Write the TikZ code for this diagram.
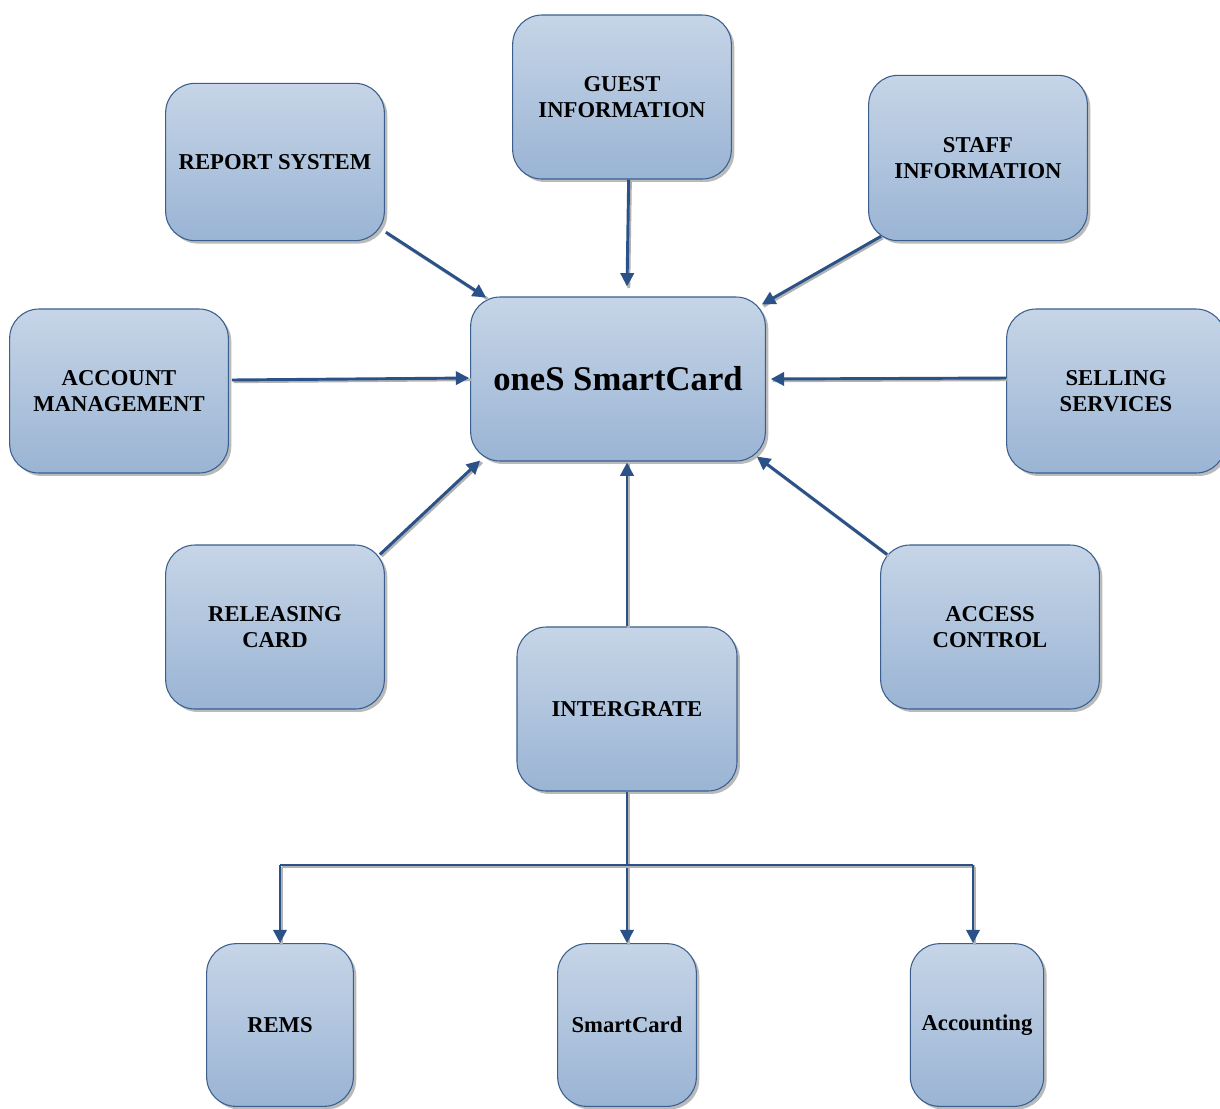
\documentclass[tikz,border=0pt]{standalone}
\usepackage{fontspec}
\setmainfont{Liberation Serif}
\usetikzlibrary{arrows.meta,shadows,calc}
\definecolor{boxtop}{HTML}{C6D5E7}
\definecolor{boxbot}{HTML}{9AB4D4}
\definecolor{boxline}{HTML}{3A5F8F}
\definecolor{arrowc}{HTML}{2B5288}
\begin{document}
\begin{tikzpicture}[x=0.75pt,y=-0.75pt,
  card/.style={rectangle, rounded corners=22pt, draw=boxline, line width=0.8pt,
    top color=boxtop, bottom color=boxbot, inner sep=0pt, align=center,
    font=\fontsize{17}{20}\selectfont\bfseries,
    drop shadow={shadow xshift=2.2pt, shadow yshift=-2.2pt, fill=black!45, opacity=0.6}},
  arr/.style={draw=arrowc, line width=2.2pt, -{Triangle[length=10pt,width=10pt]},
    preaction={draw=black!30, line width=2.2pt, -, transform canvas={shift={(1.3pt,-1.3pt)}}}},
  line/.style={draw=arrowc, line width=2.2pt,
    preaction={draw=black!30, line width=2.2pt, transform canvas={shift={(1.3pt,-1.3pt)}}}}]
\clip (0,0) rectangle (1220,1108);
\fill[white] (0,0) rectangle (1220,1108);

\node[card, minimum width=164pt, minimum height=123pt] (guest) at (622,97) {GUEST\\INFORMATION};
\node[card, minimum width=164pt, minimum height=118pt] (report) at (275,162) {REPORT SYSTEM};
\node[card, minimum width=164pt, minimum height=124pt] (staff) at (978,158) {STAFF\\INFORMATION};
\node[card, minimum width=164pt, minimum height=123pt] (account) at (119,391) {ACCOUNT\\MANAGEMENT};
\node[card, minimum width=221pt, minimum height=123pt, font=\fontsize{26}{30}\selectfont\bfseries] (center) at (618,379) {oneS SmartCard};
\node[card, minimum width=164pt, minimum height=123pt] (selling) at (1116,391) {SELLING\\SERVICES};
\node[card, minimum width=164pt, minimum height=123pt] (releasing) at (275,627) {RELEASING\\CARD};
\node[card, minimum width=164pt, minimum height=123pt] (access) at (990,627) {ACCESS\\CONTROL};
\node[card, minimum width=165pt, minimum height=123pt] (integ) at (627,709) {INTERGRATE};
\node[card, minimum width=110pt, minimum height=122pt] (rems) at (280,1025) {REMS};
\node[card, minimum width=104pt, minimum height=122pt] (smart) at (627,1025) {SmartCard};
\node[card, minimum width=100pt, minimum height=122pt] (acct) at (977,1025) {Accounting};

\coordinate (bus) at (627,865);

\draw[arr] ([shift={(1,-9)}]report.south east) -- ([shift={(16,1)}]center.north west);
\draw[arr] ([xshift=5]guest.south) -- ([shift={(9,-10)}]center.north);
\draw[arr] ([shift={(13,-5)}]staff.south west) -- ([shift={(-4,8)}]center.north east);
\draw[arr] ([shift={(3,-11)}]account.east) -- ([shift={(-1,-1)}]center.west);
\draw[arr] ([shift={(0,-13)}]selling.west) -- ([shift={(5,0)}]center.east);
\draw[arr] ([shift={(-5,10)}]releasing.north east) -- ([shift={(10,-1)}]center.south west);
\draw[arr] (integ.north) -- ([shift={(9,1)}]center.south);
\draw[arr] ([shift={(7,10)}]access.north west) -- ([shift={(-9,-5)}]center.south east);

\draw[arr] (integ.south) -- (smart.north);
\draw[line] (bus -| rems.north) -- ([xshift=-3]bus -| acct.north);
\draw[arr] (bus -| rems.north) -- (rems.north);
\draw[arr] ([xshift=-3]bus -| acct.north) -- ([xshift=-3]acct.north);
\end{tikzpicture}
\end{document}
